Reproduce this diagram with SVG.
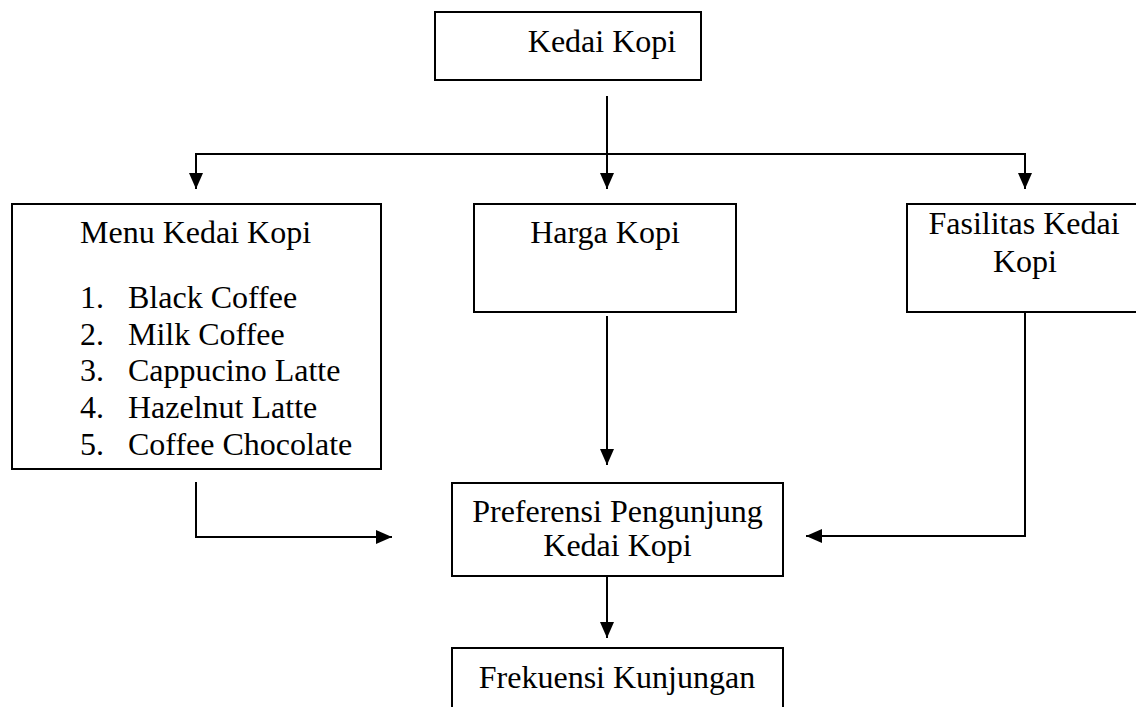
<svg xmlns="http://www.w3.org/2000/svg" width="1136" height="707" viewBox="0 0 1136 707">
<style>
.box{fill:#fff;stroke:#000;stroke-width:2}
.t{font-family:"Liberation Serif","Times New Roman",serif;font-size:32px;fill:#000}
.c{text-anchor:middle}
.ln{fill:none;stroke:#000;stroke-width:2}
</style>
<defs>
<marker id="ah" markerUnits="userSpaceOnUse" markerWidth="16" markerHeight="14" refX="16" refY="7" orient="auto">
<path d="M0,0 L16,7 L0,14 z" fill="#000"/>
</marker>
</defs>
<rect width="1136" height="707" fill="#fff"/>
<g id="connectors">
<line class="ln" x1="607" y1="96" x2="607" y2="154"/>
<line class="ln" x1="196" y1="154" x2="1025" y2="154"/>
<line class="ln" x1="196" y1="153" x2="196" y2="189" marker-end="url(#ah)"/>
<line class="ln" x1="607" y1="153" x2="607" y2="189" marker-end="url(#ah)"/>
<line class="ln" x1="1025" y1="153" x2="1025" y2="189" marker-end="url(#ah)"/>
<line class="ln" x1="607" y1="316" x2="607" y2="465" marker-end="url(#ah)"/>
<path class="ln" d="M196,482 L196,537 L392,537" marker-end="url(#ah)"/>
<path class="ln" d="M1025,312 L1025,536 L806,536" marker-end="url(#ah)"/>
<line class="ln" x1="607" y1="576" x2="607" y2="638" marker-end="url(#ah)"/>
</g>
<g id="kedai-kopi">
<rect class="box" x="435" y="12" width="266" height="68"/>
<text class="t c" x="602" y="52">Kedai Kopi</text>
</g>
<g id="menu">
<rect class="box" x="12" y="204" width="369" height="265"/>
<text class="t" x="80" y="243">Menu Kedai Kopi</text>
<text class="t" x="80" y="308">1.</text><text class="t" x="128" y="308">Black Coffee</text>
<text class="t" x="80" y="344.7">2.</text><text class="t" x="128" y="344.7">Milk Coffee</text>
<text class="t" x="80" y="381.4">3.</text><text class="t" x="128" y="381.4">Cappucino Latte</text>
<text class="t" x="80" y="418.1">4.</text><text class="t" x="128" y="418.1">Hazelnut Latte</text>
<text class="t" x="80" y="454.8">5.</text><text class="t" x="128" y="454.8">Coffee Chocolate</text>
</g>
<g id="harga">
<rect class="box" x="474" y="204" width="262" height="108"/>
<text class="t c" x="605" y="243">Harga Kopi</text>
</g>
<g id="fasilitas">
<rect class="box" x="907" y="204" width="240" height="108"/>
<text class="t c" x="1024" y="234">Fasilitas Kedai</text>
<text class="t c" x="1025" y="272">Kopi</text>
</g>
<g id="preferensi">
<rect class="box" x="452" y="483" width="331" height="93"/>
<text class="t c" x="617.5" y="522">Preferensi Pengunjung</text>
<text class="t c" x="617.5" y="556">Kedai Kopi</text>
</g>
<g id="frekuensi">
<rect class="box" x="452" y="648" width="331" height="80"/>
<text class="t c" x="617" y="688">Frekuensi Kunjungan</text>
</g>
</svg>
